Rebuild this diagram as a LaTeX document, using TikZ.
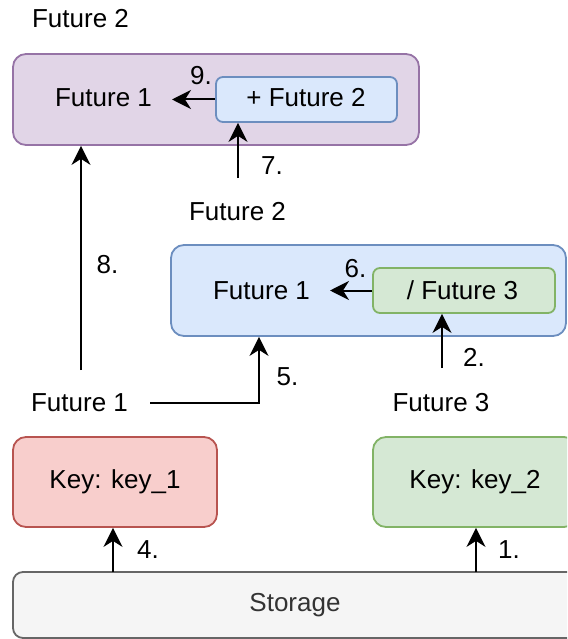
\documentclass[tikz,border=0pt]{standalone}
\usepackage{fontspec}
\setmainfont{Liberation Sans}
\usetikzlibrary{arrows.meta}

\definecolor{purpleF}{HTML}{E1D5E7}\definecolor{purpleD}{HTML}{9673A6}
\definecolor{blueF}{HTML}{DAE8FC}\definecolor{blueD}{HTML}{6C8EBF}
\definecolor{greenF}{HTML}{D5E8D4}\definecolor{greenD}{HTML}{82B366}
\definecolor{redF}{HTML}{F8CECC}\definecolor{redD}{HTML}{B85450}
\definecolor{grayF}{HTML}{F5F5F5}\definecolor{grayD}{HTML}{666666}
\definecolor{grayT}{HTML}{333333}

\begin{document}
\begin{tikzpicture}[x=1pt,y=-1pt,
  txt/.style={font=\fontsize{26}{31}\selectfont, inner sep=0pt},
  lbl/.style={txt, anchor=base},
  panel/.style={draw, line width=1.8pt, rounded corners=13pt, inner sep=0pt},
  subpanel/.style={draw, line width=1.8pt, rounded corners=7pt, inner sep=0pt},
  flow/.style={line width=2pt, -{Stealth[length=19pt,width=19pt,inset=6pt]}}]
\useasboundingbox (0,0) rectangle (567,639);
\clip (0,0) rectangle (567,639);

% outer result: Future 2 (Future 1 + Future 2)
\node[lbl] (capTop) at (80.5,28) {Future 2};
\node[panel, fill=purpleF, draw=purpleD, minimum width=406pt, minimum height=91pt] (outer) at (216,99.5) {};
\node[lbl] (outerF1) at (103.5,107) {Future 1};
\node[subpanel, fill=blueF, draw=blueD, minimum width=181pt, minimum height=45pt] (plusF2) at (306.5,99.5) {};
\node[lbl] (plusF2t) at (306,107) {+ Future 2};
\coordinate (tip9) at (172,99.5);
\draw[flow] (plusF2.west) -- (tip9);
\node[lbl] (n9) at (201,85) {9.};
\coordinate (src7) at (238,178);
\draw[flow] (src7) -- (src7 |- plusF2.south);
\node[lbl] (n7) at (272,175) {7.};

% middle result: Future 2 (Future 1 / Future 3)
\node[lbl] (capMid) at (237.5,220) {Future 2};
\node[panel, fill=blueF, draw=blueD, minimum width=395pt, minimum height=91pt] (mid) at (368.5,290.5) {};
\node[lbl] (midF1) at (261.5,299) {Future 1};
\node[subpanel, fill=greenF, draw=greenD, minimum width=182pt, minimum height=45pt] (divF3) at (464,290.5) {};
\node[lbl] (divF3t) at (462.5,299) {/ Future 3};
\coordinate (tip6) at (330,290.5);
\draw[flow] (divF3.west) -- (tip6);
\node[lbl] (n6) at (355.5,277) {6.};
\coordinate (src2) at (442,368);
\draw[flow] (src2) -- (src2 |- divF3.south);
\node[lbl] (n2) at (474,366) {2.};

% futures produced from the keys
\node[lbl] (fut1) at (79.5,411) {Future 1};
\node[lbl] (fut3) at (441,411) {Future 3};
\coordinate (src5) at (150,403);
\coordinate (bend5) at (259,403);
\draw[flow] (src5) -- (bend5) -- (bend5 |- mid.south);
\node[lbl] (n5) at (287.5,385) {5.};
\coordinate (src8) at (81,370);
\draw[flow] (src8) -- (src8 |- outer.south);
\node[lbl] (n8) at (107.5,273) {8.};

% keys and storage
\node[panel, txt, fill=redF, draw=redD, minimum width=204pt, minimum height=90pt] (key1) at (115,482) {Key: key\_1};
\node[panel, txt, fill=greenF, draw=greenD, minimum width=204pt, minimum height=90pt] (key2) at (475,482) {Key: key\_2};
\node[draw, line width=1.8pt, rounded corners=10pt, txt, fill=grayF, draw=grayD, text=grayT, minimum width=564pt, minimum height=66pt] (storage) at (295,605) {Storage};
\coordinate (s4) at (113,572);
\coordinate (s1) at (476,572);
\draw[flow] (s4) -- (s4 |- key1.south);
\draw[flow] (s1) -- (s1 |- key2.south);
\node[lbl] (n4) at (148,558) {4.};
\node[lbl] (n1) at (509,558) {1.};
\end{tikzpicture}
\end{document}
